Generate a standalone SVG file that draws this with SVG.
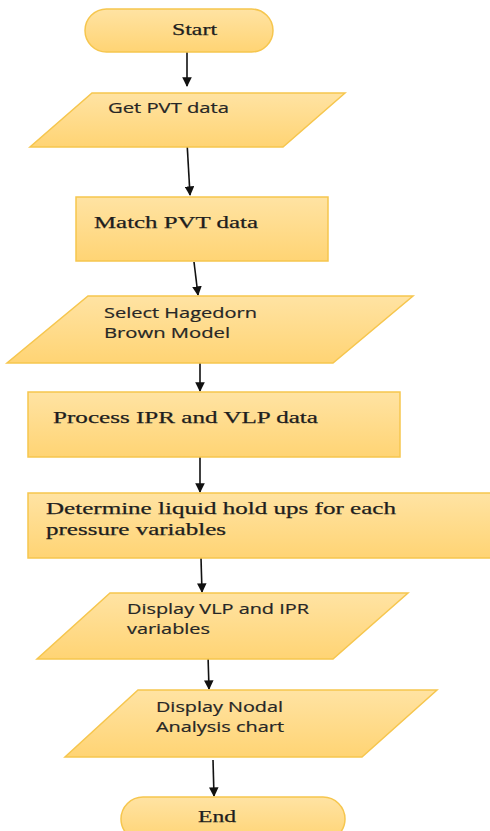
<svg xmlns="http://www.w3.org/2000/svg" width="490" height="831" viewBox="0 0 490 831">
  <defs>
    <linearGradient id="gold" x1="0" y1="0" x2="0" y2="1">
      <stop offset="0" stop-color="#FFE3A3"/>
      <stop offset="1" stop-color="#FFD474"/>
    </linearGradient>
    <marker id="arrow" viewBox="0 0 10 10" refX="9" refY="5" markerWidth="6" markerHeight="6" orient="auto" markerUnits="strokeWidth">
      <path d="M0,0 L10,5 L0,10 Z" fill="#111"/>
    </marker>
  </defs>
  <style>
    .shape { fill: url(#gold); stroke: #F6C64E; stroke-width: 1.5; }
    .serif { font-family: "Liberation Serif", "Times New Roman", serif; font-size: 17px; fill: #1e1e1e; stroke: #1e1e1e; stroke-width: 0.25; }
    .sans { font-family: "Open Sans", "Liberation Sans", sans-serif; font-size: 14px; fill: #262626; stroke: #262626; stroke-width: 0.2; }
    .link { stroke: #111; stroke-width: 1.6; fill: none; marker-end: url(#arrow); }
  </style>
  <rect width="490" height="831" fill="#ffffff"/>

  <g id="connectors">
    <line class="link" x1="187" y1="52" x2="187" y2="86"/>
    <line class="link" x1="187" y1="142" x2="190" y2="195"/>
    <line class="link" x1="194" y1="262" x2="198" y2="295"/>
    <line class="link" x1="200" y1="363" x2="200" y2="391"/>
    <line class="link" x1="200" y1="457" x2="200" y2="492"/>
    <line class="link" x1="201" y1="558" x2="202" y2="592"/>
    <line class="link" x1="208" y1="655" x2="209" y2="689"/>
    <line class="link" x1="213" y1="760" x2="214" y2="796"/>
  </g>

  <g id="start">
    <rect class="shape" x="85" y="9" width="188" height="43" rx="21.5"/>
    <text class="serif" x="172" y="35" textLength="45" lengthAdjust="spacingAndGlyphs">Start</text>
  </g>

  <g id="get-pvt">
    <polygon class="shape" points="92,93 345,93 283,147 30,147"/>
    <text class="sans" x="108" y="113" textLength="121" lengthAdjust="spacingAndGlyphs">Get PVT data</text>
  </g>

  <g id="match-pvt">
    <rect class="shape" x="76" y="197" width="252" height="64"/>
    <text class="serif" x="94" y="228" textLength="164" lengthAdjust="spacingAndGlyphs">Match PVT data</text>
  </g>

  <g id="select-model">
    <polygon class="shape" points="88,296 413,296 333,363 7,363"/>
    <text class="sans" x="104" y="318" textLength="153" lengthAdjust="spacingAndGlyphs">Select Hagedorn</text>
    <text class="sans" x="104" y="338" textLength="126" lengthAdjust="spacingAndGlyphs">Brown Model</text>
  </g>

  <g id="process-data">
    <rect class="shape" x="28" y="392" width="372" height="65"/>
    <text class="serif" x="53" y="423" textLength="265" lengthAdjust="spacingAndGlyphs">Process IPR and VLP data</text>
  </g>

  <g id="liquid-holdup">
    <rect class="shape" x="28" y="493" width="470" height="65"/>
    <text class="serif" x="46" y="514" textLength="350" lengthAdjust="spacingAndGlyphs">Determine liquid hold ups for each</text>
    <text class="serif" x="46" y="535" textLength="180" lengthAdjust="spacingAndGlyphs">pressure variables</text>
  </g>

  <g id="display-variables">
    <polygon class="shape" points="110,593 408,593 333,659 37,659"/>
    <text class="sans" x="127" y="614" textLength="182" lengthAdjust="spacingAndGlyphs">Display VLP and IPR</text>
    <text class="sans" x="127" y="634" textLength="83" lengthAdjust="spacingAndGlyphs">variables</text>
  </g>

  <g id="display-chart">
    <polygon class="shape" points="138,690 437,690 362,757 65,757"/>
    <text class="sans" x="156" y="712" textLength="127" lengthAdjust="spacingAndGlyphs">Display Nodal</text>
    <text class="sans" x="156" y="732" textLength="128" lengthAdjust="spacingAndGlyphs">Analysis chart</text>
  </g>

  <g id="end">
    <rect class="shape" x="121" y="797" width="224" height="44" rx="22"/>
    <text class="serif" x="198" y="822" textLength="38" lengthAdjust="spacingAndGlyphs">End</text>
  </g>
</svg>
